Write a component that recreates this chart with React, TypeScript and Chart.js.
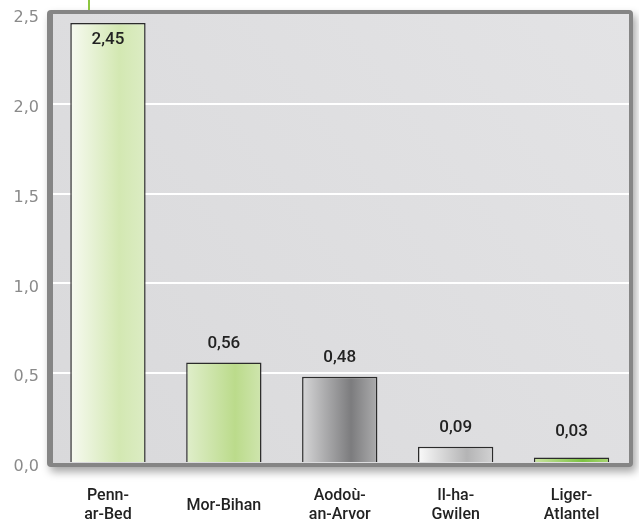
import React, { useEffect, useRef } from "react";
import { Chart, registerables } from "chart.js";

Chart.register(...registerables);

const categories: (string | string[])[] = [
  ["Penn-", "ar-Bed"],
  "Mor-Bihan",
  ["Aodoù-", "an-Arvor"],
  ["Il-ha-", "Gwilen"],
  ["Liger-", "Atlantel"],
];
const values = [2.45, 0.56, 0.48, 0.09, 0.03];
const yTicks = [0, 0.5, 1.0, 1.5, 2.0, 2.5];

// gradient stops per bar (left, mid, right) – styling only
const barGradients = [
  ["#f7faf1", "#d3e8b2", "#dcecc4"],
  ["#e0eecb", "#bbdb8b", "#cfe5ae"],
  ["#d6d6d7", "#7c7c7e", "#acacad"],
  ["#fafafa", "#b4b4b5", "#d2d2d3"],
  ["#c9e3a0", "#7cc242", "#a8d672"],
];

const fmt = (v: number, d: number) => v.toFixed(d).replace(".", ",");

export default function App() {
  const ref = useRef<HTMLCanvasElement>(null);

  useEffect(() => {
    document.body.style.margin = "0";
    const canvas = ref.current!;

    const framePlugin = {
      id: "frame",
      beforeDraw(chart: any) {
        const { ctx, chartArea: a } = chart;
        ctx.save();
        const x0 = a.left - 3, y0 = a.top - 4;
        const w = a.right - a.left + 6.5, h = a.bottom - a.top + 8;
        ctx.shadowColor = "rgba(0,0,0,0.35)";
        ctx.shadowBlur = 8;
        ctx.shadowOffsetX = 3;
        ctx.shadowOffsetY = 5;
        ctx.fillStyle = "#858585";
        ctx.beginPath();
        ctx.roundRect(x0, y0, w, h, 4);
        ctx.fill();
        ctx.shadowColor = "transparent";
        const g = ctx.createLinearGradient(a.right, a.top, a.left, a.bottom);
        g.addColorStop(0, "#e3e3e5");
        g.addColorStop(1, "#d9d9db");
        ctx.fillStyle = g;
        ctx.fillRect(a.left + 3, a.top, a.right - a.left - 3.5, a.bottom - a.top);
        // green accent line
        ctx.fillStyle = "#8dc63f";
        ctx.fillRect(a.left + 38, 0, 2, a.top - 4);
        ctx.restore();
      },
      beforeDatasetsDraw(chart: any) {
        const { ctx, chartArea: a } = chart;
        ctx.save();
        ctx.fillStyle = "#858585";
        ctx.fillRect(a.left - 3, a.top, 6, a.bottom - a.top);
        ctx.fillRect(a.right - 0.5, a.top, 4, a.bottom - a.top);
        ctx.restore();
      },
      afterDatasetsDraw(chart: any) {
        const { ctx, chartArea: a } = chart;
        const meta = chart.getDatasetMeta(0);
        const base = chart.scales.y.getPixelForValue(0);
        ctx.save();
        ctx.font = "500 17px Roboto";
        ctx.fillStyle = "#222";
        ctx.textAlign = "center";
        ctx.textBaseline = "middle";
        meta.data.forEach((bar: any, i: number) => {
          let y = Math.min(bar.y - 19, base - 31);
          if (y < a.top + 12) y = bar.y + 17;
          ctx.fillText(fmt(values[i], 2), bar.x, y);
        });
        ctx.restore();
      },
    };

    const chart = new Chart(canvas, {
      type: "bar",
      data: {
        labels: categories as any,
        datasets: [
          {
            data: values,
            backgroundColor: (ctx: any) => {
              const chart = ctx.chart;
              const xs = chart.scales?.x;
              const i = ctx.dataIndex;
              const stops = barGradients[i % barGradients.length];
              if (!xs || !chart.chartArea || i === undefined) return stops[1];
              const cx = xs.getPixelForValue(i);
              const half = (xs.width / categories.length) * 0.65 / 2;
              const g = chart.ctx.createLinearGradient(cx - half, 0, cx + half, 0);
              g.addColorStop(0, stops[0]);
              g.addColorStop(0.65, stops[1]);
              g.addColorStop(1, stops[2]);
              return g;
            },
            borderColor: "#2b2b2b",
            borderWidth: 1.5,
            borderSkipped: "bottom",
            categoryPercentage: 1,
            barPercentage: 0.65,
          },
        ],
      },
      options: {
        responsive: false,
        animation: false,
        layout: { padding: { left: 0, right: 9.5, top: 14, bottom: 0 } },
        plugins: {
          legend: { display: false },
          tooltip: { enabled: false },
        },
        scales: {
          x: {
            grid: { display: false, drawTicks: false },
            border: { display: false },
            ticks: {
              color: "#222",
              font: { family: "Roboto", size: 16, weight: 500, lineHeight: 1.2 },
              padding: 33,
              crossAlign: "center",
              maxRotation: 0,
              autoSkip: false,
            },
            afterFit: (s: any) => {
              s.height = 62;
              s.paddingLeft = 0;
              s.paddingRight = 0;
            },
          },
          y: {
            min: 0,
            max: 2.5,
            afterBuildTicks: (s: any) => {
              s.ticks = yTicks.map((v) => ({ value: v }));
            },
            grid: {
              drawTicks: false,
              lineWidth: 2,
              color: (c: any) =>
                c.tick && (c.tick.value === 0 || c.tick.value === 2.5)
                  ? "rgba(0,0,0,0)"
                  : "#ffffff",
            },
            border: { display: false },
            ticks: {
              color: "#8a8a8a",
              font: { family: "DejaVu Sans", size: 16 },
              padding: 11,
              labelOffset: 4,
              callback: (v: any) => fmt(Number(v), 1),
            },
            afterFit: (s: any) => {
              s.width = 50;
              s.paddingTop = 0;
              s.paddingBottom = 0;
            },
          },
        },
      },
      plugins: [framePlugin],
    });

    return () => chart.destroy();
  }, []);

  return (
    <div style={{ position: "absolute", left: 0, top: 0, width: 639, height: 525, background: "#fff" }}>
      <canvas ref={ref} width={639} height={525} style={{ width: 639, height: 525, display: "block" }} />
    </div>
  );
}
